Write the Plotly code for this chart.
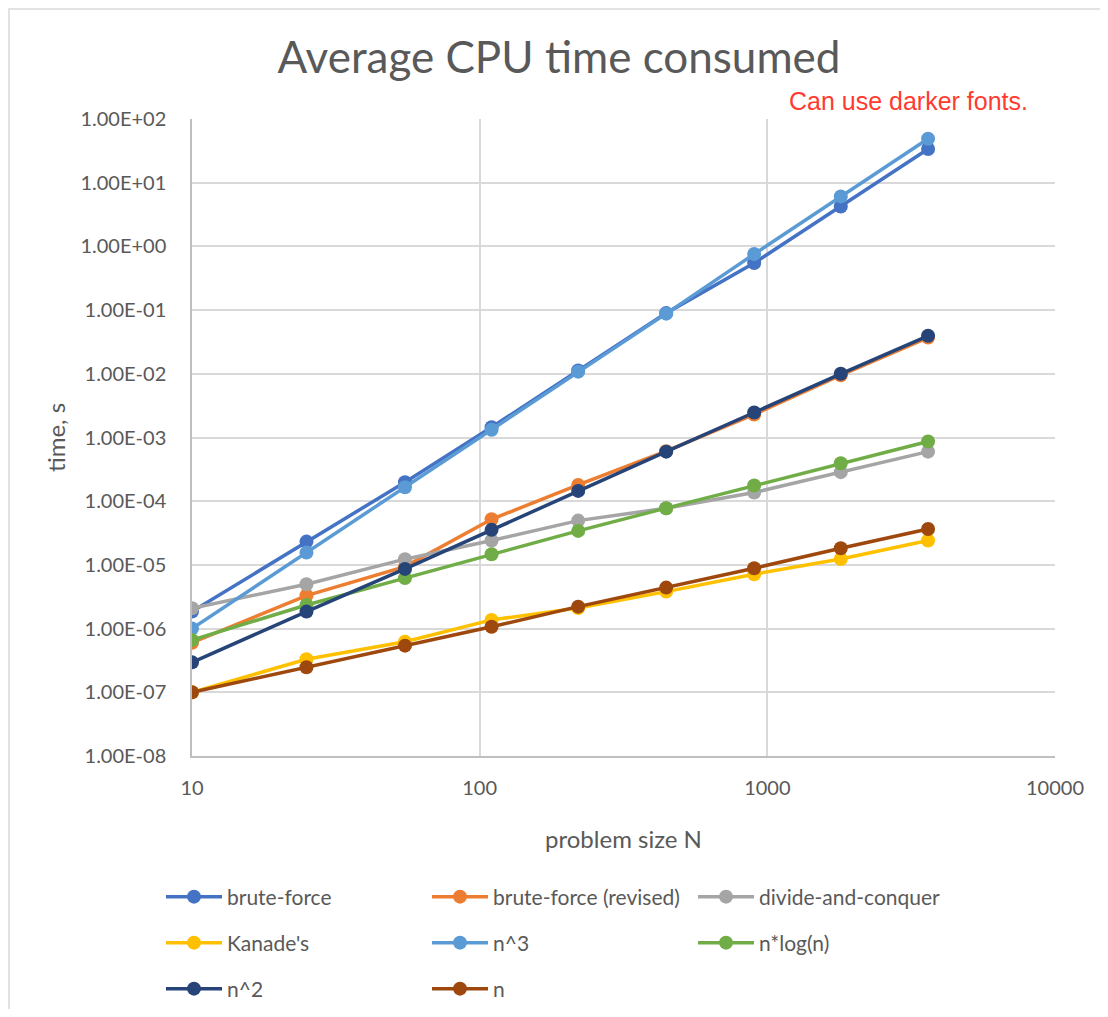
import plotly.graph_objects as go

N = [10, 25, 55, 110, 220, 445, 900, 1800, 3620]

brute_force = [1.85e-6, 2.32e-5, 1.99e-4, 1.45e-3, 1.13e-2, 8.97e-2, 0.547, 4.24, 33.8]
brute_force_revised = [6.0e-7, 3.3e-6, 9.4e-6, 5.2e-5, 1.80e-4, 6.1e-4, 2.3e-3, 9.5e-3, 3.7e-2]
divide_and_conquer = [2.09e-6, 4.98e-6, 1.23e-5, 2.41e-5, 4.96e-5, 7.77e-5, 1.37e-4, 2.86e-4, 6.0e-4]
kanade = [1.0e-7, 3.3e-7, 6.2e-7, 1.37e-6, 2.1e-6, 3.81e-6, 7.14e-6, 1.24e-5, 2.41e-5]
n_cubed = [1.0e-6, 1.56e-5, 1.66e-4, 1.32e-3, 1.08e-2, 8.8e-2, 0.758, 6.09, 49.1]
n_log_n = [6.6e-7, 2.35e-6, 6.2e-6, 1.47e-5, 3.42e-5, 7.77e-5, 1.76e-4, 3.95e-4, 8.65e-4]
n_squared = [2.95e-7, 1.85e-6, 8.65e-6, 3.55e-5, 1.45e-4, 6.0e-4, 2.47e-3, 1.0e-2, 3.95e-2]
n_linear = [1.0e-7, 2.47e-7, 5.4e-7, 1.07e-6, 2.21e-6, 4.4e-6, 8.87e-6, 1.83e-5, 3.67e-5]

series = [
    ("brute-force", brute_force, "#4472C4", "legend"),
    ("brute-force (revised)", brute_force_revised, "#ED7D31", "legend"),
    ("divide-and-conquer", divide_and_conquer, "#A5A5A5", "legend"),
    ("Kanade's", kanade, "#FFC000", "legend2"),
    ("n^3", n_cubed, "#5B9BD5", "legend2"),
    ("n*log(n)", n_log_n, "#70AD47", "legend2"),
    ("n^2", n_squared, "#264478", "legend3"),
    ("n", n_linear, "#9E480E", "legend3"),
]

y_tick_exp = [2, 1, 0, -1, -2, -3, -4, -5, -6, -7, -8]
y_tick_vals = [10.0 ** e for e in y_tick_exp]
y_tick_text = ["1.00E+02", "1.00E+01", "1.00E+00", "1.00E-01", "1.00E-02", "1.00E-03",
               "1.00E-04", "1.00E-05", "1.00E-06", "1.00E-07", "1.00E-08"]
x_tick_vals = [10, 100, 1000, 10000]
x_tick_text = ["10", "100", "1000", "10000"]

FONT = "Lato"
GRAY = "#595959"

fig = go.Figure()
for name, vals, color, lg in series:
    fig.add_trace(go.Scatter(
        x=N, y=vals, name=name, mode="lines+markers",
        line=dict(color=color, width=3.5),
        marker=dict(color=color, size=14),
        legend=lg,
    ))

# page body has an 8px margin; figure coordinates = screen - 8
OFF = 8
W, H = 1092, 1001
L, T = 192 - OFF, 119 - OFF
R = W - (1055 - OFF)
B = H - (756 - OFF)
pw, ph = W - L - R, H - T - B

def px_x(px):
    return (px - OFF - L) / pw

def px_y(py):
    return (H - B - (py - OFF)) / ph

def cont_x(px):
    return (px - OFF) / W

def cont_y(py):
    return 1 - (py - OFF) / H

legend_common = dict(
    orientation="h", xanchor="left", yanchor="middle",
    xref="container", yref="container",
    font=dict(family=FONT, size=21, color=GRAY),
    entrywidth=195, entrywidthmode="pixels", itemwidth=56,
    bgcolor="rgba(0,0,0,0)",
)

fig.update_layout(
    width=W, height=H,
    margin=dict(l=L, r=R, t=T, b=B, autoexpand=False),
    paper_bgcolor="white", plot_bgcolor="white",
    font=dict(family=FONT, color=GRAY),
    title=dict(text="Average CPU time consumed", x=cont_x(559), xref="container",
               xanchor="center",
               y=cont_y(58), yanchor="middle",
               font=dict(family=FONT, size=44, color=GRAY)),
    xaxis=dict(type="log", range=[1, 4], tickvals=x_tick_vals, ticktext=x_tick_text,
               showgrid=True, gridcolor="#D9D9D9", gridwidth=1.5,
               showline=True, linecolor="#BFBFBF", linewidth=1.5,
               ticks="", tickfont=dict(family=FONT, size=20, color=GRAY),
               ticklabelstandoff=13,
               title=dict(text="problem size N", font=dict(family=FONT, size=24, color=GRAY),
                          standoff=33),
               zeroline=False),
    yaxis=dict(type="log", range=[-8, 2], tickvals=y_tick_vals, ticktext=y_tick_text,
               showgrid=True, gridcolor="#D9D9D9", gridwidth=1.5,
               showline=True, linecolor="#BFBFBF", linewidth=1.5,
               ticks="", tickfont=dict(family=FONT, size=20, color=GRAY),
               ticklabelstandoff=20,
               title=dict(text="time, s", font=dict(family=FONT, size=24, color=GRAY),
                          standoff=8),
               zeroline=False),
    legend=dict(x=cont_x(161), y=cont_y(897), **legend_common),
    legend2=dict(x=cont_x(161), y=cont_y(943), **legend_common),
    legend3=dict(x=cont_x(161), y=cont_y(989), **legend_common),
    showlegend=True,
)

fig.add_annotation(text="Can use darker fonts.", xref="paper", yref="paper",
                   x=px_x(1030), y=px_y(101), xanchor="right", yanchor="middle",
                   showarrow=False,
                   font=dict(family="Liberation Sans", size=25, color="#FF3B30"))

fig.add_shape(type="rect", xref="paper", yref="paper",
              x0=px_x(9), x1=px_x(1106), y0=px_y(1030), y1=px_y(9),
              line=dict(color="#D9D9D9", width=1.5), fillcolor="rgba(0,0,0,0)", layer="below")

fig.write_html("out.html")
